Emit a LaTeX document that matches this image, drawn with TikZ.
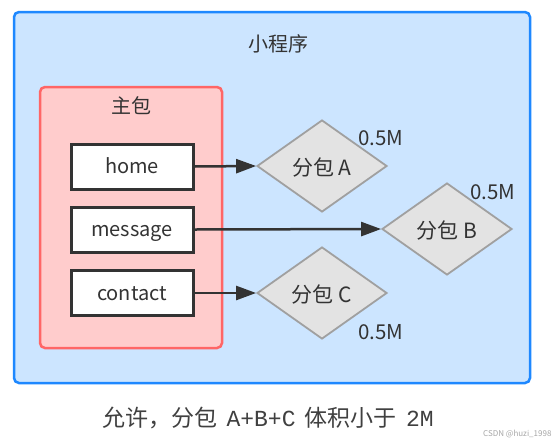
\documentclass[tikz,border=0pt]{standalone}
\usepackage{fontspec}
\setmainfont{Noto Sans CJK SC}
\newfontfamily\capmono{Liberation Mono}
\usetikzlibrary{shapes.geometric,arrows.meta}
\definecolor{outerfill}{HTML}{CCE5FF}
\definecolor{outerline}{HTML}{1E88FF}
\definecolor{redfill}{HTML}{FFCCCC}
\definecolor{redline}{HTML}{FF6666}
\definecolor{diafill}{HTML}{E3E3E3}
\definecolor{dialine}{HTML}{A0A0A0}
\definecolor{txt}{HTML}{333333}
\tikzset{
  lbl/.style={text height=18pt, text depth=4pt, text=txt},
  lowlbl/.style={text height=22pt, text depth=3pt, text=txt},
  pagebox/.style={lbl, draw=black!80, line width=3pt, fill=white, minimum width=122pt, minimum height=45pt, inner sep=0pt, font=\fontsize{20}{24}\selectfont},
  pkg/.style={lowlbl, diamond, draw=dialine, line width=1.8pt, fill=diafill, minimum width=130pt, minimum height=92pt, inner sep=0pt, aspect=1.41, font=\fontsize{21}{24}\selectfont},
  size/.style={lowlbl, font=\fontsize{20.5}{24}\selectfont},
  conn/.style={draw=black!80, line width=2.5pt, -{Triangle[length=20pt,width=14pt]}}
}
\begin{document}
\begin{tikzpicture}[x=1pt,y=-1pt]
\useasboundingbox (0,0) rectangle (559,445);
\fill[white] (0,0) rectangle (559,445);
\draw[outerline, fill=outerfill, line width=2.5pt, rounded corners=5pt] (14,12) rectangle (530,383);
\node[lbl, font=\fontsize{20}{24}\selectfont] (title) at (278,44) {小程序};
\draw[redline, fill=redfill, line width=2.5pt, rounded corners=5pt] (40,87) rectangle (222,348);
\node[lbl, font=\fontsize{20}{24}\selectfont] (main) at (131,106) {主包};
\node[pagebox] (home) at (132,166.5) {home};
\node[pagebox] (msg) at (132,229.5) {message};
\node[pagebox] (contact) at (132,293) {contact};
\node[pkg] (A) at (322,166) {分包 A};
\node[pkg] (B) at (447,229) {分包 B};
\node[pkg] (C) at (322,293) {分包 C};
\node[size] (sa) at (381,136) {0.5M};
\node[size] (sb) at (493,190) {0.5M};
\node[size] (sc) at (381,330) {0.5M};
\draw[conn] (home.east) -- (A.west);
\draw[conn] (msg.east) -- (B.west);
\draw[conn] (contact.east) -- (C.west);
\node[font=\fontsize{23}{27}\selectfont, text=black!75, text height=22pt, text depth=5pt] (cap) at (268,418) {允许，分包\hspace{0.4em}{\capmono A+B+C}\hspace{0.4em}体积小于\hspace{0.4em}{\capmono 2M}};
\node[font=\fontsize{8}{10}\selectfont, text=black!35, anchor=east] (wm) at (555,434) {CSDN @huzi\_1998};
\end{tikzpicture}
\end{document}
